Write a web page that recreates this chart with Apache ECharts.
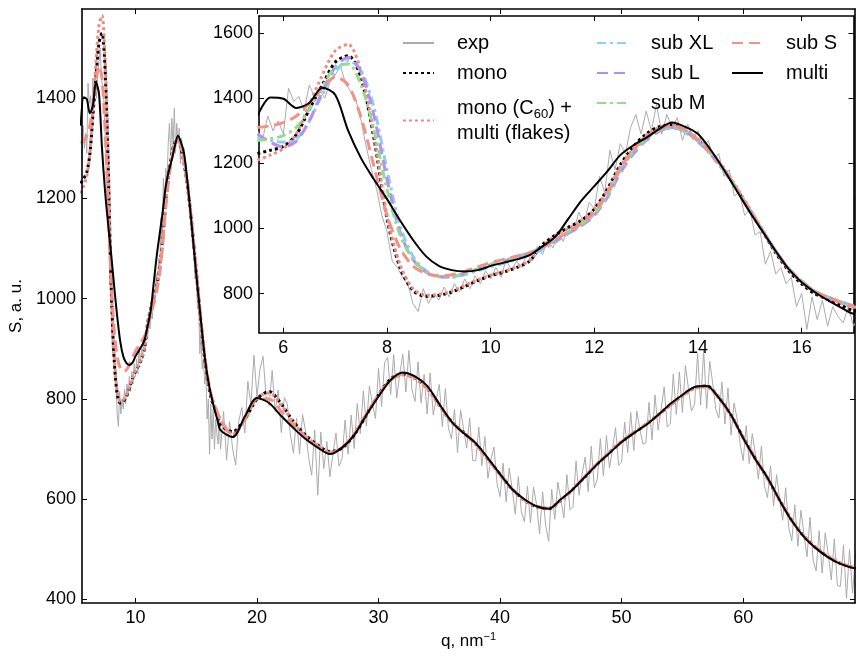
<!DOCTYPE html>
<html><head><meta charset="utf-8">
<script src="https://cdn.jsdelivr.net/npm/echarts@6/dist/echarts.min.js"></script>
<style>html,body{margin:0;padding:0;background:#fff}#c{width:856px;height:657px}</style>
</head><body><div id="c"></div><script>
// ---- sampling grids (q, nm^-1) ----
function qGrid(start, step, n){const a=[];for(let i=0;i<n;i++)a.push(Math.round((start+i*step)*1000)/1000);return a;}
const qFit = qGrid(5.5,0.25,47).concat(qGrid(18,1,52)).concat([69.3]);
const qExp = qGrid(5.5,0.1,116).concat(qGrid(17.25,0.25,209));

// ---- experimental S(q) ----
const expVals = [
1300,1275,1345,1300,1330,1290,1430,1390,1405,1360,
1440,1405,1425,1400,1450,1470,1500,1445,1420,1395,
1330,1250,1180,1120,1040,990,900,880,850,830,
770,745,815,770,800,780,820,790,830,805,
845,815,855,830,870,845,880,850,905,870,
900,880,925,900,945,920,965,940,990,960,
1010,990,1050,1015,1080,1060,1160,1110,1240,1180,
1260,1230,1310,1350,1290,1360,1300,1380,1290,1350,
1310,1340,1270,1320,1280,1300,1250,1270,1210,1230,
1160,1180,1100,1110,1040,1060,980,990,890,930,
860,880,830,850,760,800,690,790,720,780,
700,760,730,710,760,700,
775,678,755,700,668,755,783,732,
835,788,887,805,860,885,805,787,
857,775,818,733,803,790,728,692,
761,690,769,735,683,648,738,608,
734,661,715,645,690,732,666,681,
758,690,768,701,791,731,816,746,
826,790,761,861,785,873,883,809,
889,802,850,889,814,897,819,795,
874,792,849,770,
852,768,800,829,745,821,742,720,
779,693,778,740,702,762,677,677,
744,667,725,642,680,704,631,605,
672,595,662,620,570,645,575,555,
626,553,624,590,531,615,548,516,
620,560,634,600,563,649,579,585,
676,608,650,684,615,706,623,640,
721,646,727,662,700,743,668,674,
754,693,773,697,776,740,710,713,
793,718,808,738,780,824,744,750,
850,769,854,773,867,820,776,789,
891,788,898,781,875,830,779,762,
834,750,822,728,792,760,710,677,
747,671,731,690,640,706,627,603,
667,586,649,600,558,623,543,517,
589,506,578,530,485,564,479,457,
537,453,533,490,439,521,428,426,
509,402,500,413,492
];

// ---- model curves, low-q part (5.5..17 step 0.25) ----
const monoLow = [1230,1240,1252,1288,1365,1440,1510,1530,1460,1275,1030,880,810,792,795,805,822,840,855,866,880,900,950,980,1003,1025,1060,1120,1195,1250,1290,1312,1318,1300,1270,1230,1180,1120,1055,990,925,870,830,800,783,765,748];
const monoMultiLow = [1210,1225,1245,1290,1380,1470,1545,1565,1480,1290,1040,890,815,795,798,808,825,842,857,868,882,902,945,978,1000,1022,1058,1115,1190,1245,1285,1310,1320,1305,1275,1235,1185,1125,1060,995,930,875,835,805,788,772,758];
const subXLLow = [1280,1270,1265,1275,1330,1410,1480,1515,1485,1370,1180,1010,915,870,852,850,858,870,882,893,905,918,935,958,985,1010,1045,1105,1180,1235,1275,1300,1308,1295,1265,1225,1175,1118,1055,992,930,877,838,808,790,775,762];
const subLLow = [1290,1265,1250,1268,1330,1420,1495,1525,1480,1345,1150,990,905,866,852,852,862,875,888,900,912,925,942,962,985,1008,1040,1095,1170,1228,1270,1298,1310,1298,1268,1228,1178,1120,1056,992,930,877,838,808,790,775,762];
const subMLow = [1270,1275,1285,1310,1365,1435,1495,1505,1440,1300,1120,980,905,868,853,853,862,876,890,902,913,926,943,965,990,1013,1046,1102,1178,1234,1275,1302,1312,1300,1270,1230,1180,1121,1057,993,931,877,838,808,790,775,762];
const subSLow = [1310,1315,1325,1345,1385,1430,1465,1440,1340,1190,1040,940,885,862,855,858,868,882,895,905,915,925,942,965,990,1015,1050,1110,1185,1240,1280,1305,1315,1302,1272,1232,1182,1122,1058,993,930,876,836,806,789,773,760];
const multiLow = [1345,1402,1398,1370,1385,1432,1410,1300,1215,1150,1090,1025,965,915,885,872,868,872,885,895,905,918,945,975,1030,1085,1130,1175,1225,1255,1278,1305,1325,1312,1290,1240,1180,1115,1050,990,930,875,835,805,780,758,738];

// ---- model curves, high-q part (18..69 step 1, then 69.3) ----
const monoHigh = [735,760,800,815,790,755,728,708,695,702,728,768,808,840,850,842,822,788,755,733,710,680,650,620,598,585,581,598,620,645,670,693,715,732,749,768,788,807,822,826,803,768,723,681,642,598,558,526,503,485,472,464,463];
const monoMultiHigh = [730,758,802,812,788,753,726,707,694,702,730,770,808,838,848,840,820,787,754,732,709,679,649,619,598,585,582,598,620,646,671,694,716,733,750,768,788,806,821,824,802,767,722,680,641,598,558,527,504,486,473,465,464];
const subSHigh = [726,760,800,800,775,748,724,705,692,703,730,770,807,838,850,843,823,789,755,733,710,680,649,620,599,586,582,599,620,646,671,693,715,733,749,768,789,807,822,825,802,768,723,681,642,598,558,526,503,485,472,464,463];
const multiHigh = [724,765,802,792,766,742,720,703,690,703,728,768,805,838,853,845,826,790,755,732,712,682,650,620,600,586,581,600,620,645,670,692,714,732,748,768,790,808,824,826,802,768,722,680,643,598,557,525,502,484,471,463,462];

// ---- axis ticks ----
const mainXTicks = [10,20,30,40,50,60];
const mainYTicks = [400,600,800,1000,1200,1400];
const insetXTicks = [6,8,10,12,14,16];
const insetYTicks = [800,1000,1200,1400,1600];

const NAME_EXP='exp', NAME_MONO='mono', NAME_MM='mono (C60) + multi (flakes)', NAME_XL='sub XL', NAME_L='sub L', NAME_M='sub M', NAME_S='sub S', NAME_MULTI='multi';

const pairs = (xs, ys) => ys.map((y,i)=>[xs[i], y]);
const styles = {
  [NAME_EXP]:  {color:'#ababab', width:1, type:'solid'},
  [NAME_MONO]: {color:'#000000', width:3, type:[3,3]},
  [NAME_MM]:   {color:'#f28a84', width:3, type:[3,3]},
  [NAME_XL]:   {color:'#8fcdf5', width:3, type:[9,4,3,4]},
  [NAME_L]:    {color:'#b98cf0', width:3, type:[11,6]},
  [NAME_M]:    {color:'#92dc8e', width:3, type:[9,4,3,4]},
  [NAME_S]:    {color:'#f2908a', width:3, type:[11,6]},
  [NAME_MULTI]:{color:'#000000', width:2, type:'solid'}
};
function mk(name, data, xi, yi, z, smooth){
  const s = styles[name];
  return {name, type:'line', data, xAxisIndex:xi, yAxisIndex:yi, symbol:'none', showSymbol:false,
    smooth: smooth ? 0.3 : false, z, silent:true, clip:true, color:s.color,
    lineStyle:{color:s.color, width:s.width, type:s.type, cap:'butt'}};
}

const expData = pairs(qExp, expVals);
const monoData = pairs(qFit, monoLow.concat(monoHigh));
const mmData = pairs(qFit, monoMultiLow.concat(monoMultiHigh));
const sData = pairs(qFit, subSLow.concat(subSHigh));
const multiData = pairs(qFit, multiLow.concat(multiHigh));
const xlData = pairs(qFit, subXLLow);
const lData = pairs(qFit, subLLow);
const mData = pairs(qFit, subMLow);

const FONT = 'Liberation Sans, Arial, Helvetica, sans-serif';
const axisLineStyle = {color:'#000', width:1.6};
function xAx(grid, min, max, ticks, pos, showLabel, z, extra){
  return Object.assign({type:'value', gridIndex:grid, min, max, position:pos, z,
    axisLine:{show:true, onZero:false, lineStyle:axisLineStyle},
    axisTick:{show:true, inside:true, length:5, lineStyle:{color:'#000', width:1}, customValues:ticks},
    axisLabel:{show:showLabel, customValues:ticks, margin:6, color:'#000', fontSize:18, fontFamily:FONT,
      formatter: v => String(v)},
    splitLine:{show:false}}, extra||{});
}

const option = {
  animation:false,
  backgroundColor:'#fff',
  textStyle:{fontFamily:FONT},
  grid:[
    {left:81, top:9, width:774, height:594, show:false},
    {left:259, top:16, width:594.5, height:316.7, show:true, backgroundColor:'#fff', borderWidth:0, z:10}
  ],
  xAxis:[
    xAx(0, 5.6, 69.2, mainXTicks, 'bottom', true, 3, {name:'q, nm{sup|\u22121}', nameLocation:'middle', nameGap:26,
      nameTextStyle:{color:'#000', fontSize:17, fontFamily:FONT, rich:{sup:{fontSize:11, verticalAlign:'top', padding:[0,0,8,0], color:'#000', fontFamily:FONT}}}}),
    xAx(0, 5.6, 69.2, mainXTicks, 'top', false, 3),
    xAx(1, 5.53, 17.0, insetXTicks, 'bottom', true, 11),
    xAx(1, 5.53, 17.0, insetXTicks, 'top', false, 11)
  ],
  yAxis:[
    xAx(0, 393, 1578, mainYTicks, 'left', true, 3, {name:'S, a. u.', nameLocation:'middle', nameGap:31, nameRotate:90,
      nameTextStyle:{color:'#000', fontSize:17, fontFamily:FONT}}),
    xAx(0, 393, 1578, mainYTicks, 'right', false, 3),
    xAx(1, 680, 1652, insetYTicks, 'left', true, 11),
    xAx(1, 680, 1652, insetYTicks, 'right', false, 11)
  ],
  legend:[
    {orient:'vertical', left:402, top:30.5, data:[NAME_EXP, NAME_MONO]},
    {orient:'vertical', left:402, top:95.5, data:[NAME_MM]},
    {orient:'vertical', left:596, top:30.5, data:[NAME_XL, NAME_L, NAME_M]},
    {orient:'vertical', left:731, top:30.5, data:[NAME_S, NAME_MULTI]}
  ].map(l => Object.assign({
    itemWidth:31, itemHeight:14, itemGap:5, selectedMode:false, z:20, padding:0,
    itemStyle:{color:'rgba(0,0,0,0)', borderWidth:0, borderColor:'rgba(0,0,0,0)'},
    formatter: n => n === NAME_MM ? 'mono (C{sub|60}) +\nmulti (flakes)' : n,
    textStyle:{fontSize:20, lineHeight:25, color:'#000', fontFamily:FONT, padding:[0,0,0,18],
      rich:{sub:{fontSize:13, verticalAlign:'bottom', padding:[8,0,0,0], color:'#000', fontFamily:FONT}}}
  }, l)),
  series:[
    mk(NAME_EXP, expData, 0, 0, 2, false),
    mk(NAME_MONO, monoData, 0, 0, 2, true),
    mk(NAME_MM, mmData, 0, 0, 2, true),
    mk(NAME_S, sData, 0, 0, 2, true),
    mk(NAME_MULTI, multiData, 0, 0, 2, true),
    mk(NAME_EXP, expData, 2, 2, 12, false),
    mk(NAME_MONO, monoData, 2, 2, 12, true),
    mk(NAME_MM, mmData, 2, 2, 12, true),
    mk(NAME_XL, xlData, 2, 2, 12, true),
    mk(NAME_L, lData, 2, 2, 12, true),
    mk(NAME_M, mData, 2, 2, 12, true),
    mk(NAME_S, sData, 2, 2, 12, true),
    mk(NAME_MULTI, multiData, 2, 2, 12, true)
  ]
};
const chart = echarts.init(document.getElementById('c'), null, {renderer:'canvas'});
chart.setOption(option);
</script></body></html>
